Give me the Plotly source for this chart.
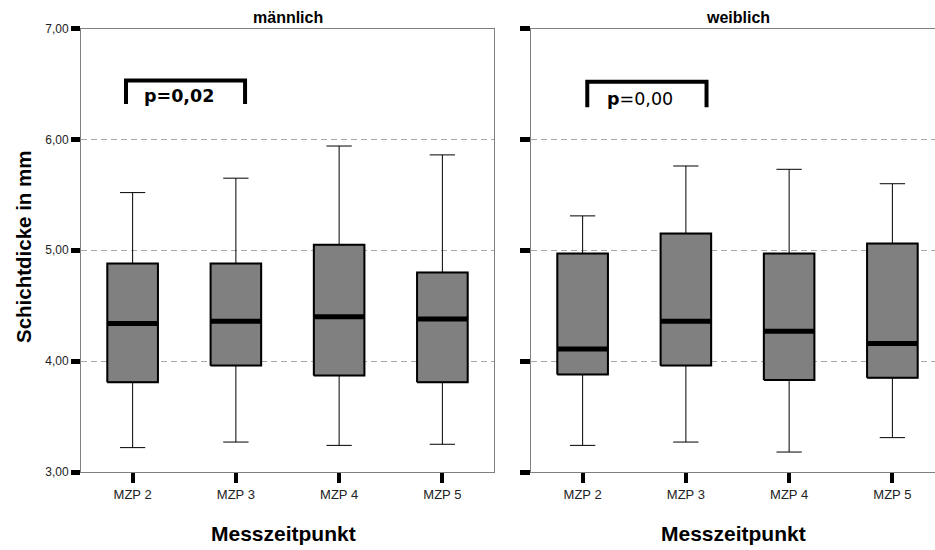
import plotly.graph_objects as go

# Measurement time points
categories = ["MZP 2", "MZP 3", "MZP 4", "MZP 5"]

# Layer thickness (mm), male group: box-plot statistics per time point
male_lower = [3.22, 3.27, 3.24, 3.25]
male_q1 = [3.81, 3.96, 3.87, 3.81]
male_median = [4.34, 4.36, 4.40, 4.38]
male_q3 = [4.88, 4.88, 5.05, 4.80]
male_upper = [5.52, 5.65, 5.94, 5.86]

# Layer thickness (mm), female group
female_lower = [3.24, 3.27, 3.18, 3.31]
female_q1 = [3.88, 3.96, 3.83, 3.85]
female_median = [4.11, 4.36, 4.27, 4.16]
female_q3 = [4.97, 5.15, 4.97, 5.06]
female_upper = [5.31, 5.76, 5.73, 5.60]

y_ticks = [3, 4, 5, 6, 7]
y_tick_labels = ["3,00", "4,00", "5,00", "6,00", "7,00"]

W, H = 935, 550
BOX_W = 0.49
FONT = "Liberation Sans, Arial, sans-serif"
FRAME = "#808080"
positions = list(range(len(categories)))

fig = go.Figure()


def add_panel(xa, ya, lower, q1, med, q3, upper):
    # whiskers + filled box
    fig.add_trace(go.Box(
        x=positions, q1=q1, median=med, q3=q3,
        lowerfence=lower, upperfence=upper,
        width=BOX_W, whiskerwidth=0.5, boxpoints=False,
        fillcolor="#808080", line=dict(color="black", width=1),
        xaxis=xa, yaxis=ya, hoverinfo="skip", showlegend=False,
    ))
    # heavier box outline
    ox, oy = [], []
    for p, a, b in zip(positions, q1, q3):
        l, r = p - BOX_W / 2, p + BOX_W / 2
        ox += [l, r, r, l, l, None]
        oy += [a, a, b, b, a, None]
    fig.add_trace(go.Scatter(
        x=ox, y=oy, mode="lines", line=dict(color="black", width=2),
        xaxis=xa, yaxis=ya, hoverinfo="skip", showlegend=False,
    ))
    # thick median bar
    mx, my = [], []
    for p, m in zip(positions, med):
        mx += [p - BOX_W / 2, p + BOX_W / 2, None]
        my += [m, m, None]
    fig.add_trace(go.Scatter(
        x=mx, y=my, mode="lines", line=dict(color="black", width=5),
        xaxis=xa, yaxis=ya, hoverinfo="skip", showlegend=False,
    ))


add_panel("x", "y", male_lower, male_q1, male_median, male_q3, male_upper)
add_panel("x2", "y2", female_lower, female_q1, female_median, female_q3, female_upper)

# plot-area geometry (pixels)
left_l, left_r = 81, 494
right_l = 531
y_bot_px, y_top_px = 472, 28.5
unit_px = (left_r - left_l) / 4.0
y_dom = [(H - y_bot_px) / H, (H - y_top_px) / H]

common_x = dict(
    tickmode="array", tickvals=positions, ticktext=categories,
    ticks="outside", ticklen=10, tickwidth=4, tickcolor="black",
    showline=True, mirror=True, linecolor=FRAME, linewidth=1,
    showgrid=False, zeroline=False, fixedrange=True, automargin=False,
    tickfont=dict(family=FONT, size=13, color="#222"),
)
common_y = dict(
    range=[3, 7], tickmode="array", tickvals=y_ticks, ticktext=y_tick_labels,
    ticks="outside", tickwidth=5, tickcolor="black",
    showline=True, linecolor=FRAME, linewidth=1,
    showgrid=True, gridcolor="#a8a8a8", gridwidth=1, griddash="6px,4px",
    zeroline=False, domain=y_dom, fixedrange=True, automargin=False,
    tickfont=dict(family=FONT, size=12, color="#222"),
)

fig.update_layout(
    width=W, height=H, autosize=False,
    margin=dict(l=0, r=0, t=0, b=0, pad=0, autoexpand=False),
    paper_bgcolor="white", plot_bgcolor="white",
    showlegend=False,
    xaxis=dict(common_x, domain=[left_l / W, left_r / W], range=[-0.5, 3.5], anchor="y"),
    yaxis=dict(common_y, anchor="x", mirror=True, ticklen=9),
    xaxis2=dict(common_x, domain=[right_l / W, 1.0],
                range=[-0.5, -0.5 + (W - right_l) / unit_px], anchor="y2"),
    yaxis2=dict(common_y, anchor="x2", mirror=False, ticklen=10, showticklabels=False),
)

# significance brackets
brackets = [
    ("x", "y", -0.064, 1.089, 6.53, 6.32, 0.09, 6.39, "<b>p=0,02</b>"),
    ("x2", "y2", 0.045, 1.20, 6.52, 6.29, 0.22, 6.36, "<b>p</b>=0,00"),
]
for xr, yr, x0, x1, yt, yb, tx, ty, label in brackets:
    fig.add_shape(
        type="path", xref=xr, yref=yr,
        path=f"M {x0},{yb} L {x0},{yt} L {x1},{yt} L {x1},{yb}",
        line=dict(color="black", width=4),
    )
    fig.add_annotation(
        x=tx, y=ty, xref=xr, yref=yr, text=label, showarrow=False,
        xanchor="left", yanchor="middle",
        font=dict(family="DejaVu Sans, sans-serif", size=17.5, color="black"),
    )

# panel titles
for cx, txt in [((left_l + left_r) / 2, "männlich"),
                ((right_l + right_l + 4 * unit_px) / 2, "weiblich")]:
    fig.add_annotation(
        x=cx / W, y=1 - 18 / H, xref="paper", yref="paper", text=f"<b>{txt}</b>",
        showarrow=False, xanchor="center", yanchor="middle",
        font=dict(family=FONT, size=16, color="black"),
    )

# axis titles
for cx in [283, 733]:
    fig.add_annotation(
        x=cx / W, y=1 - 533 / H, xref="paper", yref="paper",
        text="<b>Messzeitpunkt</b>", showarrow=False,
        xanchor="center", yanchor="middle",
        font=dict(family=FONT, size=21, color="black"),
    )
fig.add_annotation(
    x=23 / W, y=1 - 247 / H, xref="paper", yref="paper",
    text="<b>Schichtdicke in mm</b>", showarrow=False, textangle=-90,
    xanchor="center", yanchor="middle",
    font=dict(family=FONT, size=20.5, color="black"),
)

fig.write_html("out.html")
